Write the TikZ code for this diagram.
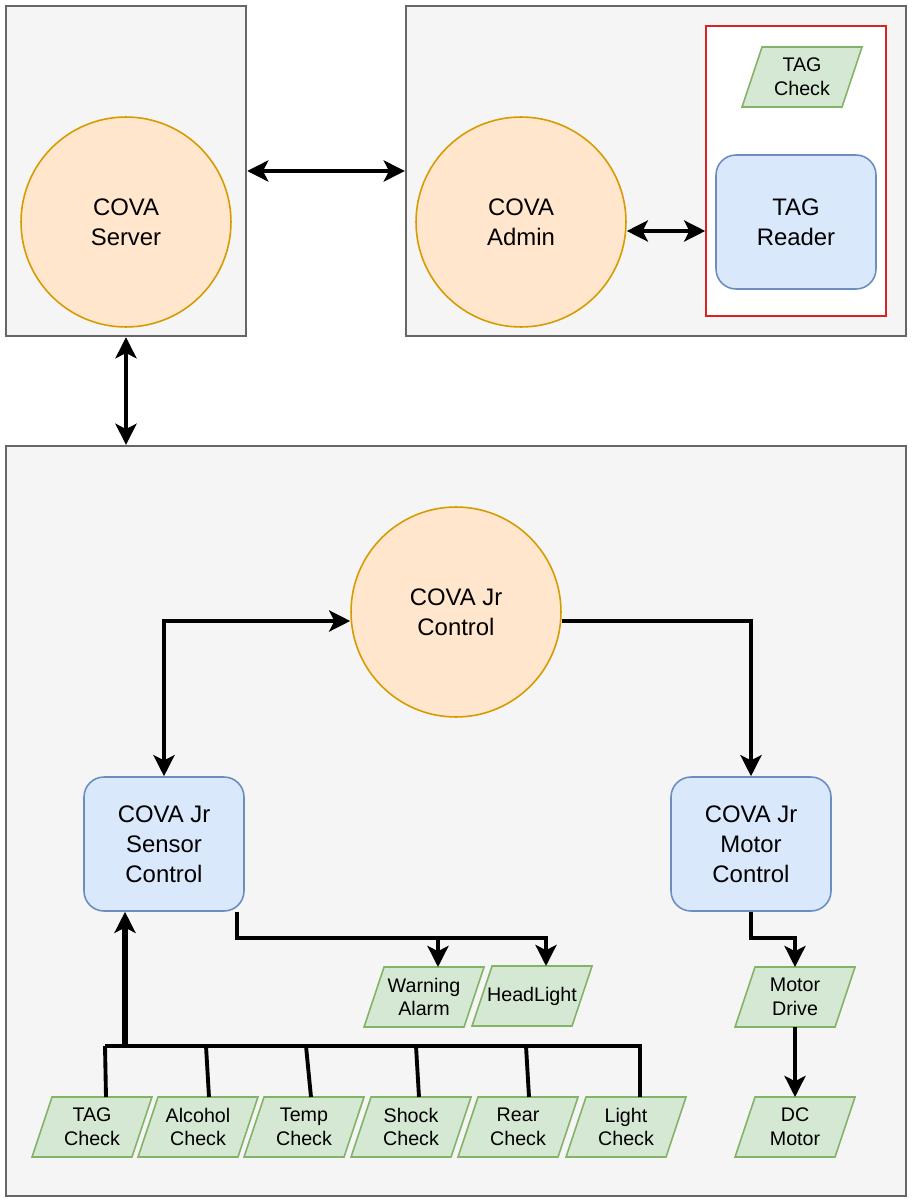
\documentclass[tikz,border=0pt]{standalone}
\usepackage{fontspec}
\setmainfont{Liberation Sans}
\usetikzlibrary{arrows.meta, calc}

\definecolor{boxfill}{HTML}{F5F5F5}
\definecolor{boxline}{HTML}{666666}
\definecolor{procfill}{HTML}{FFE6CC}
\definecolor{procline}{HTML}{D79B00}
\definecolor{ctrlfill}{HTML}{DAE8FC}
\definecolor{ctrlline}{HTML}{6C8EBF}
\definecolor{iofill}{HTML}{D5E8D4}
\definecolor{ioline}{HTML}{82B366}
\definecolor{tagred}{HTML}{DD2222}

\newcommand{\bigtxt}{\fontsize{13.6}{17}\selectfont}
\newcommand{\smalltxt}{\fontsize{11.2}{13.6}\selectfont}

\begin{document}
\begin{tikzpicture}[x=0.02cm, y=-0.02cm,
  >={Stealth[length=12pt, width=12pt, inset=3pt]},
  arr/.style={->, line width=2.2pt},
  biarr/.style={<->, line width=2.2pt},
  wire/.style={line width=2.2pt},
  group/.style={draw=boxline, fill=boxfill, line width=1.4pt, inner sep=0pt},
  proc/.style={circle, draw=procline, fill=procfill, line width=0.9pt,
    minimum size=4.2cm, inner sep=0pt, align=center, font=\bigtxt},
  ctrl/.style={rectangle, rounded corners=0.4cm, draw=ctrlline, fill=ctrlfill,
    line width=0.9pt, minimum width=3.2cm, minimum height=2.68cm,
    align=center, font=\bigtxt},
  % 平行四边形：边框画在 path picture 里
  io/.style={rectangle, minimum width=2.4cm+3pt, minimum height=1.2cm+3pt,
    inner sep=0pt, outer sep=-1.5pt, align=center, font=\smalltxt,
    path picture={\filldraw[draw=ioline, fill=iofill, line width=0.9pt]
      ([shift={(0.4cm+1.5pt,-1.5pt)}]path picture bounding box.north west) --
      ([shift={(-1.5pt,-1.5pt)}]path picture bounding box.north east) --
      ([shift={(-0.4cm-1.5pt,1.5pt)}]path picture bounding box.south east) --
      ([shift={(1.5pt,1.5pt)}]path picture bounding box.south west) -- cycle;}},
]
  \useasboundingbox (0,0) rectangle (913,1203);

  % 外框
  \node[group, minimum width=4.8cm, minimum height=6.6cm] (srvbox) at (126,171) {};
  \node[group, minimum width=10cm, minimum height=6.6cm] (admbox) at (656,171) {};
  \node[group, minimum width=18cm, minimum height=15cm] (jrbox) at (456,821) {};
  \node[draw=tagred, fill=white, line width=0.9pt,
    minimum width=3.6cm, minimum height=5.8cm] (tagbox) at (796,171) {};

  % 服务器与管理端
  \node[proc] (srv) at (126,222) {COVA\\Server};
  \node[proc] (adm) at (521,222) {COVA\\Admin};
  \node[io]   (tagtop) at (802,77) {TAG\\Check};
  \node[ctrl] (rdr) at (796,222) {TAG\\Reader};

  % COVA Jr
  \node[proc] (jr)   at (456,612) {COVA Jr\\Control};
  \node[ctrl] (sen)  at (164,844) {COVA Jr\\Sensor\\Control};
  \node[ctrl] (mot)  at (751,844) {COVA Jr\\Motor\\Control};
  \node[io]   (warn) at (424,997) {Warning\\Alarm};
  \node[io]   (head) at (532,996) {HeadLight};
  \node[io]   (drv)  at (795,997) {Motor\\Drive};
  \node[io]   (dcm)  at (795,1127) {DC\\Motor};
  \foreach \n/\x/\t in {tagc/92/TAG, alc/198/Alcohol, tmp/304/Temp,
                        shk/411/Shock, rear/518/Rear, lgt/626/Light}
    \node[io] (\n) at (\x,1127) {\t\\Check};

  % 连线
  \draw[biarr] (srvbox.east) -- (admbox.west);
  \draw[biarr] ([yshift=-0.18cm]adm.east) -- ([yshift=-0.18cm]adm.east -| tagbox.west);
  \draw[biarr] (srvbox.south) -- (srvbox.south |- jrbox.north);
  \draw[biarr] ([yshift=-0.18cm]jr.west) -| (sen.north);
  \draw[arr] ([yshift=-0.18cm]jr.east) -| (mot.north);
  \draw[arr] ([xshift=-0.16cm]sen.south east) -- ++(0,26) -| ([xshift=0.28cm]warn.north);
  \draw[arr] ([xshift=-0.16cm]sen.south east) -- ++(0,26) -| ([xshift=0.28cm]head.north);
  \draw[arr] (mot.south) -- ++(0,26) -| (drv.north);
  \draw[arr] (drv.south) -- (dcm.north);

  % 传感器总线
  \coordinate (bus) at (125,1046);
  \foreach \n/\dx/\bx in {tagc/14/105, alc/11/206, tmp/7/306, shk/8/416, rear/11/526}
    \draw[wire] ([xshift=\dx*0.02cm]\n.north) -- (\bx,1046);
  \draw[wire] (105,1046) -- (640,1046) -- ([xshift=0.28cm]lgt.north);
  \draw[arr, line width=3.4pt] (bus) -- (bus |- sen.south);
\end{tikzpicture}
\end{document}
